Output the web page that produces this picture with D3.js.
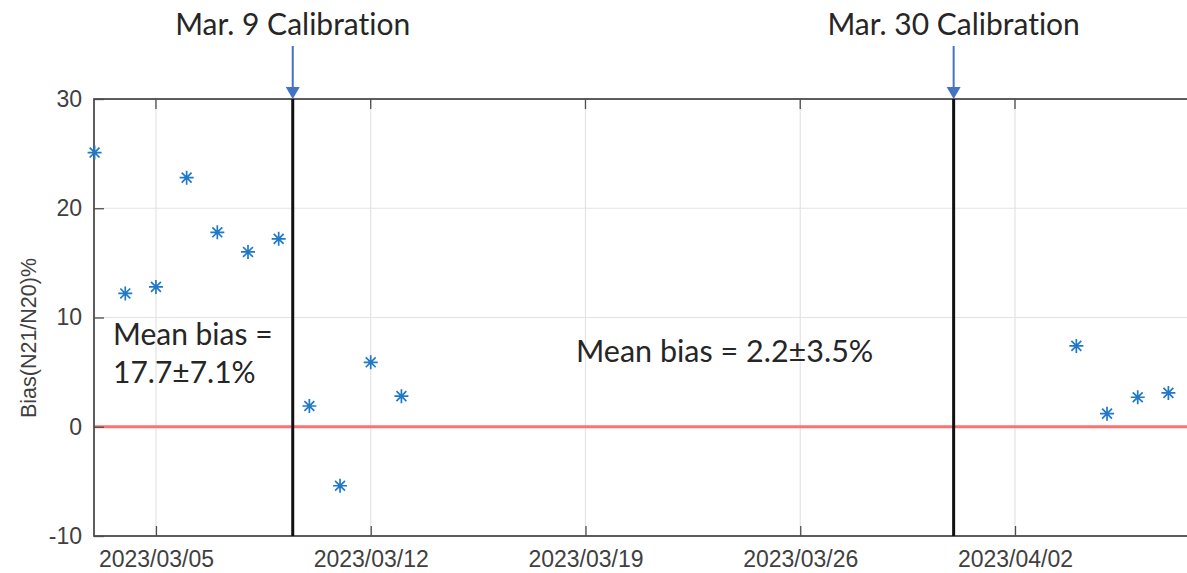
<html>
<head>
<meta charset="utf-8">
<script src="https://cdn.jsdelivr.net/npm/d3@7"></script>
<style>
  body { margin:0; background:#fff; }
  svg { display:block; }
  .tick text { font-family:"Liberation Sans", Arial, sans-serif; font-size:23px; fill:#404040; }
  .note { font-family:Lato, "Open Sans", sans-serif; font-size:30px; fill:#262626; font-variant-ligatures:none; }
</style>
</head>
<body>
<div id="container"></div>
<script>
// measured days (2023) and bias values
var dates = ["2023-03-03","2023-03-04","2023-03-05","2023-03-06","2023-03-07","2023-03-08","2023-03-09",
             "2023-03-10","2023-03-11","2023-03-12","2023-03-13",
             "2023-04-04","2023-04-05","2023-04-06","2023-04-07"];
var bias = [25.1, 12.2, 12.8, 22.8, 17.8, 16.0, 17.2,
            1.9, -5.4, 5.9, 2.8,
            7.4, 1.2, 2.7, 3.1];
var yTicks = [-10, 0, 10, 20, 30];
var xTickDates = ["2023-03-05","2023-03-12","2023-03-19","2023-03-26","2023-04-02"];
var calibDates = ["2023-03-09T11:00","2023-03-31T00:00"];
var calibLabels = ["Mar. 9 Calibration","Mar. 30 Calibration"];

var width = 1187, height = 573;
var parse = function(s){ return new Date(s.length > 10 ? s : s + "T00:00"); };

var svg = d3.select("#container").append("svg")
  .attr("width", width).attr("height", height);

var x = d3.scaleTime()
  .domain([parse("2023-03-03"), parse("2023-04-08T00:00")])
  .range([94.6, 94.6 + 36 * 30.68]);
var y = d3.scaleLinear().domain([-10, 30]).range([536, 99]);

var x0 = 94, x1 = width + 2, y0 = 99, y1 = 536;

// grid
var g = svg.append("g");
g.selectAll(".gx").data(xTickDates).enter().append("line")
  .attr("x1", function(d){ return x(parse(d)); }).attr("x2", function(d){ return x(parse(d)); })
  .attr("y1", y0).attr("y2", y1).attr("stroke", "#e3e3e3").attr("stroke-width", 1.2);
g.selectAll(".gy").data(yTicks).enter().append("line")
  .attr("x1", x0).attr("x2", x1)
  .attr("y1", function(d){ return y(d); }).attr("y2", function(d){ return y(d); })
  .attr("stroke", "#e3e3e3").attr("stroke-width", 1.2);

// zero line
svg.append("line").attr("x1", x0).attr("x2", x1).attr("y1", y(0)).attr("y2", y(0))
  .attr("stroke", "#ff7070").attr("stroke-width", 2.8);

// axes
var xAxis = d3.axisBottom(x).tickValues(xTickDates.map(parse))
  .tickFormat(d3.timeFormat("%Y/%m/%d")).tickSizeInner(-10).tickSizeOuter(0).tickPadding(14);
var yAxis = d3.axisLeft(y).tickValues(yTicks).tickFormat(function(d){ return String(d); })
  .tickSizeInner(-10).tickSizeOuter(0).tickPadding(12);

var ax = svg.append("g").attr("transform", "translate(0," + y1 + ")").call(xAxis);
var ay = svg.append("g").attr("transform", "translate(" + x0 + ",0)").call(yAxis);
[ax, ay].forEach(function(a){
  a.select(".domain").remove();
  a.selectAll(".tick line").attr("stroke", "#4d4d4d").attr("stroke-width", 1.3);
});
ax.selectAll(".tick text").attr("dy", null).attr("y", 31);
// top ticks
svg.selectAll(".tt").data(xTickDates).enter().append("line")
  .attr("x1", function(d){ return x(parse(d)); }).attr("x2", function(d){ return x(parse(d)); })
  .attr("y1", y0).attr("y2", y0 + 10).attr("stroke", "#4d4d4d").attr("stroke-width", 1.3);

// box
svg.append("rect").attr("x", x0).attr("y", y0).attr("width", x1 - x0).attr("height", y1 - y0)
  .attr("fill", "none").attr("stroke", "#4d4d4d").attr("stroke-width", 1.8);

// calibration lines
svg.selectAll(".cal").data(calibDates).enter().append("line")
  .attr("x1", function(d){ return x(parse(d)); }).attr("x2", function(d){ return x(parse(d)); })
  .attr("y1", y0).attr("y2", y1).attr("stroke", "#111").attr("stroke-width", 3);

// arrows
svg.selectAll(".arr").data(calibDates).enter().append("line")
  .attr("x1", function(d){ return x(parse(d)); }).attr("x2", function(d){ return x(parse(d)); })
  .attr("y1", 46).attr("y2", 90).attr("stroke", "#4472c4").attr("stroke-width", 2);
svg.selectAll(".arrh").data(calibDates).enter().append("path")
  .attr("transform", function(d){ return "translate(" + x(parse(d)) + "," + y0 + ")"; })
  .attr("d", "M0,0L-7,-12L7,-12Z").attr("fill", "#4472c4");
svg.selectAll(".calt").data(calibDates).enter().append("text").attr("class", "note")
  .attr("x", function(d){ return x(parse(d)); }).attr("y", 35)
  .attr("text-anchor", "middle")
  .text(function(d, i){ return calibLabels[i]; });

// data points (asterisks, + and x)
var star = function(r){
  var a = r * Math.SQRT1_2;
  return "M0," + (-r) + "V" + r + "M" + (-r) + ",0H" + r +
         "M" + (-a) + "," + (-a) + "L" + a + "," + a + "M" + (-a) + "," + a + "L" + a + "," + (-a);
};
svg.selectAll(".pt").data(dates).enter().append("path")
  .attr("transform", function(d, i){ return "translate(" + x(parse(d)) + "," + y(bias[i]) + ")"; })
  .attr("d", star(7)).attr("stroke", "#1f78c8").attr("stroke-width", 1.7).attr("fill", "none");

// notes
svg.append("text").attr("class", "note").attr("x", 113).attr("y", 345).text("Mean bias =");
svg.append("text").attr("class", "note").attr("x", 113).attr("y", 383).text("17.7\u00B17.1%");
svg.append("text").attr("class", "note").attr("x", 576).attr("y", 362)
  .style("font-size", "30.5px").text("Mean bias = 2.2\u00B13.5%");

// y label
svg.append("text").attr("transform", "translate(36,338) rotate(-90)")
  .attr("text-anchor", "middle")
  .style("font-family", "'Liberation Sans', Arial, sans-serif").style("font-size", "21.5px")
  .attr("fill", "#404040").text("Bias(N21/N20)%");
</script>
</body>
</html>
